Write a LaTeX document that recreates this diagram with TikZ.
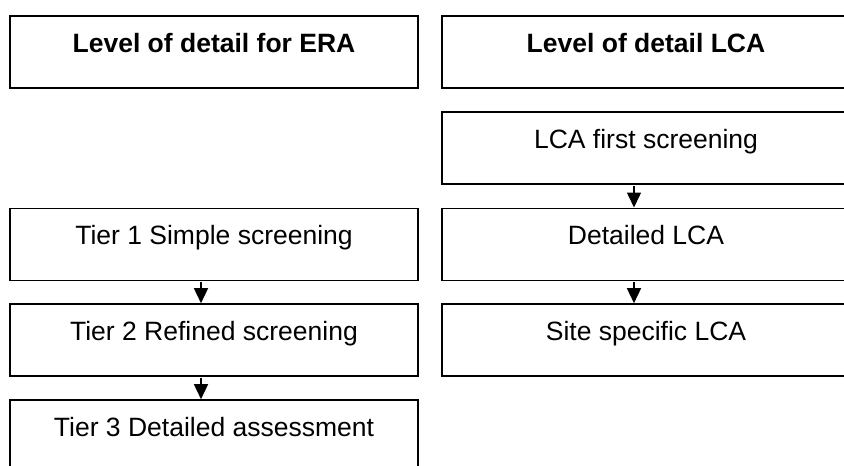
\documentclass[tikz,border=0pt]{standalone}
\usepackage{fontspec}
\setmainfont{Liberation Sans}
\usetikzlibrary{arrows.meta}
\tikzset{
  levelbox/.style={draw,line width=1.6pt,minimum width=408pt,inner xsep=0pt,inner ysep=0pt,
    text height=36.3pt,text depth=35.7pt,font=\fontsize{26.5}{30}\selectfont},
  headbox/.style={levelbox,font=\fontsize{26.5}{30}\selectfont\bfseries},
  tierarrow/.style={->,line width=1.5pt,shorten <=0.8pt}
}
\begin{document}
\begin{tikzpicture}[line cap=butt,line join=miter,>={Triangle[length=15pt,width=14pt]},x=1pt,y=1pt]
			\useasboundingbox (0,0) rectangle (844,-466);
			\clip (0,0) rectangle (844,-466);
			% headers
			\node[headbox] (era) at (214,-52) {Level of detail for ERA};
			\node[headbox] (lca) at (646,-52) {Level of detail LCA};
			% LCA column
			\node[levelbox] (lcafirst) at (646,-148) {LCA first screening};
			\node[levelbox] (lcadet) at (646,-244.3) {Detailed LCA};
			\node[levelbox] (lcasite) at (646,-340) {Site specific LCA};
			% ERA tiers
			\node[levelbox] (tierone) at (214,-244.3) {Tier 1 Simple screening};
			\node[levelbox] (tiertwo) at (214,-340) {Tier 2 Refined screening};
			\node[levelbox] (tierthree) at (214,-436) {Tier 3 Detailed assessment};
			\draw[tierarrow] ([xshift=-13pt]tierone.south) -- ([xshift=-13pt]tiertwo.north);
			\draw[tierarrow] ([xshift=-13pt]tiertwo.south) -- ([xshift=-13pt]tierthree.north);
			\draw[tierarrow] ([xshift=-12pt]lcafirst.south) -- ([xshift=-12pt]lcadet.north);
			\draw[tierarrow] ([xshift=-12pt]lcadet.south) -- ([xshift=-12pt]lcasite.north);
\end{tikzpicture}
\end{document}
